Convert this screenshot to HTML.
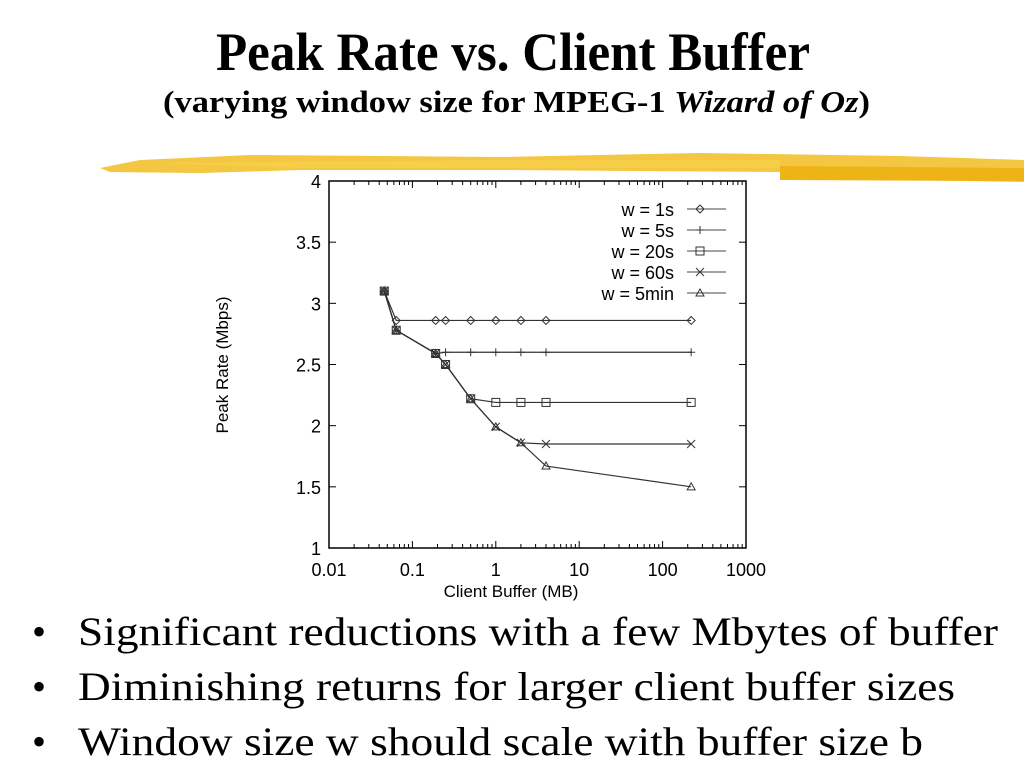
<!DOCTYPE html>
<html><head><meta charset="utf-8"><style>
html,body{margin:0;padding:0;background:#fff;}
svg{display:block;}
</style></head><body>
<svg id="page" width="1024" height="768" viewBox="0 0 1024 768" xmlns="http://www.w3.org/2000/svg">
<text x="216" y="70" font-family="Liberation Serif, serif" font-weight="bold" font-size="54" textLength="594" lengthAdjust="spacingAndGlyphs">Peak Rate vs. Client Buffer</text>
<text x="163" y="112" font-family="Liberation Serif, serif" font-weight="bold" font-size="31" textLength="707" lengthAdjust="spacingAndGlyphs">(varying window size for MPEG-1 <tspan font-style="italic">Wizard of Oz</tspan>)</text>
<g>
<polygon points="100,168 140,160 250,155 500,157 700,153 900,156 1024,160 1024,182 900,180 780,180 780,172 500,170 300,170 200,173 110,172" fill="#f2c12e" opacity="0.9"/>
<polygon points="780,166 1024,168 1024,181 780,180" fill="#eeb416"/>
<polygon points="150,163 500,160 780,160 780,168 300,168" fill="#f6d04a" opacity="0.8"/>
</g>
<g id="chart"></g>
<g font-family="Liberation Serif, serif" font-size="40">
<text x="32" y="645">•</text>
<text x="78" y="645" textLength="920" lengthAdjust="spacingAndGlyphs">Significant reductions with a few Mbytes of buffer</text>
<text x="32" y="700">•</text>
<text x="78" y="700" textLength="877" lengthAdjust="spacingAndGlyphs">Diminishing returns for larger client buffer sizes</text>
<text x="32" y="755">•</text>
<text x="78" y="755" textLength="845" lengthAdjust="spacingAndGlyphs">Window size w should scale with buffer size b</text>
</g>
</svg>
<script>
const xValues = [0.046, 0.064, 0.19, 0.25, 0.5, 1, 2, 4, 220];
const seriesNames = ["w = 1s", "w = 5s", "w = 20s", "w = 60s", "w = 5min"];
const s1 = [3.1, 2.86, 2.86, 2.86, 2.86, 2.86, 2.86, 2.86, 2.86];
const s5 = [3.1, 2.78, 2.59, 2.6, 2.6, 2.6, 2.6, 2.6, 2.6];
const s20 = [3.1, 2.78, 2.59, 2.5, 2.22, 2.19, 2.19, 2.19, 2.19];
const s60 = [3.1, 2.78, 2.59, 2.5, 2.22, 1.99, 1.86, 1.85, 1.85];
const s5min = [3.1, 2.78, 2.59, 2.5, 2.22, 1.99, 1.86, 1.67, 1.5];
const xTicks = [0.01, 0.1, 1, 10, 100, 1000];
const xTickLabels = ["0.01", "0.1", "1", "10", "100", "1000"];
const yTicks = [1, 1.5, 2, 2.5, 3, 3.5, 4];
const yTickLabels = ["1", "1.5", "2", "2.5", "3", "3.5", "4"];

const NS = "http://www.w3.org/2000/svg";
const L = 329, R = 746, T = 181, B = 548;
const xs = v => L + (Math.log10(v) + 2) / 5 * (R - L);
const ys = v => B - (v - 1) / 3 * (B - T);
const g = document.getElementById('chart');
function mk(tag, attrs, parent) {
  const e = document.createElementNS(NS, tag);
  for (const k in attrs) e.setAttribute(k, attrs[k]);
  (parent || g).appendChild(e);
  return e;
}
const FONT = "Liberation Sans, sans-serif";
let fr = mk('rect', {x: L, y: T, width: R - L, height: B - T, fill: 'none', stroke: '#000', 'stroke-width': 1.5});


yTicks.forEach((v, i) => {
  const y = ys(v);
  mk('line', {x1: L, x2: L + 7, y1: y, y2: y, stroke: '#000'});
  mk('line', {x1: R, x2: R - 7, y1: y, y2: y, stroke: '#000'});
  const t = mk('text', {x: 321, y: y + 7, 'text-anchor': 'end', 'font-family': FONT, 'font-size': 18});
  t.textContent = yTickLabels[i];
  
  
});
xTicks.forEach((v, i) => {
  const x = xs(v);
  mk('line', {x1: x, x2: x, y1: B, y2: B - 7, stroke: '#000'});
  mk('line', {x1: x, x2: x, y1: T, y2: T + 7, stroke: '#000'});
  if (i < xTicks.length - 1) {
    for (let m = 2; m < 10; m++) {
      const xm = xs(v * m);
      mk('line', {x1: xm, x2: xm, y1: B, y2: B - 4, stroke: '#000'});
      mk('line', {x1: xm, x2: xm, y1: T, y2: T + 4, stroke: '#000'});
    }
  }
  const t = mk('text', {x: x, y: 576, 'text-anchor': 'middle', 'font-family': FONT, 'font-size': 18});
  t.textContent = xTickLabels[i];
  
  
});
let xt = mk('text', {x: 511, y: 597, 'text-anchor': 'middle', 'font-family': FONT, 'font-size': 17});
xt.textContent = "Client Buffer (MB)";


let yt = mk('text', {x: 0, y: 0, 'text-anchor': 'middle', 'font-family': FONT, 'font-size': 17, transform: 'translate(228,365) rotate(-90)'});
yt.textContent = "Peak Rate (Mbps)";



function marker(type, x, y, parent) {
  const st = {fill: 'none', stroke: '#333', 'stroke-width': 1};
  if (type === 0) return mk('polygon', Object.assign({points: `${x},${y-4} ${x+4},${y} ${x},${y+4} ${x-4},${y}`}, st), parent);
  if (type === 1) return mk('path', Object.assign({d: `M${x-4},${y}H${x+4}M${x},${y-4}V${y+4}`}, st), parent);
  if (type === 2) return mk('rect', Object.assign({x: x - 4, y: y - 4, width: 8, height: 8}, st), parent);
  if (type === 3) return mk('path', Object.assign({d: `M${x-4},${y-4}L${x+4},${y+4}M${x-4},${y+4}L${x+4},${y-4}`}, st), parent);
  return mk('polygon', Object.assign({points: `${x},${y-4} ${x+4},${y+3} ${x-4},${y+3}`}, st), parent);
}
const allSeries = [s1, s5, s20, s60, s5min];
const names = ['series-w-1s', 'series-w-5s', 'series-w-20s', 'series-w-60s', 'series-w-5min'];
allSeries.forEach((s, si) => {
  const sg = mk('g', {});
  
  
  const pts = s.map((v, i) => xs(xValues[i]) + ',' + ys(v)).join(' ');
  mk('polyline', {points: pts, fill: 'none', stroke: '#333', 'stroke-width': 1.2}, sg);
  s.forEach((v, i) => {
    const m = marker(si, xs(xValues[i]), ys(v), sg);
    
    
  });
  const ly = 209 + si * 21;
  const lg = mk('g', {});
  
  
  const lt = mk('text', {x: 674, y: ly + 7, 'text-anchor': 'end', 'font-family': FONT, 'font-size': 18}, lg);
  lt.textContent = seriesNames[si];
  mk('line', {x1: 687, x2: 726, y1: ly, y2: ly, stroke: '#444'}, lg);
  marker(si, 700, ly, lg);
});
</script>
</body></html>
